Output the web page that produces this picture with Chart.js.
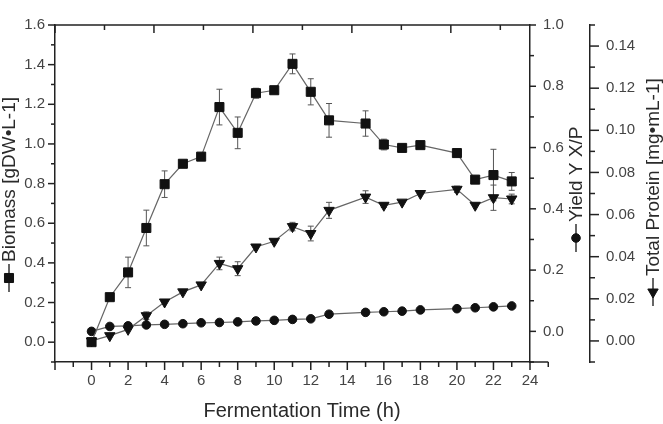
<!DOCTYPE html>
<html>
<head>
<meta charset="utf-8">
<script src="https://cdn.jsdelivr.net/npm/chart.js@4.4.1/dist/chart.umd.min.js"></script>
<style>
  html, body { margin: 0; padding: 0; background: #fff; }
  #wrap { width: 663px; height: 424px; }
</style>
</head>
<body>
<div id="wrap"><canvas id="chart" width="663" height="424"></canvas></div>
<script>
// fermentation time points (14 h and 19 h were not sampled)
const hours = [0, 1, 2, 3, 4, 5, 6, 7, 8, 9, 10, 11, 12, 13, 15, 16, 17, 18, 20, 21, 22, 23];

const biomass    = [0.00, 0.227, 0.352, 0.576, 0.797, 0.90, 0.936, 1.186, 1.056, 1.256, 1.271, 1.404, 1.263, 1.119, 1.103, 0.997, 0.98, 0.994, 0.954, 0.82, 0.843, 0.811];
const biomassErr = [0, 0, 0.077, 0.09, 0.067, 0, 0, 0.09, 0.08, 0.025, 0, 0.05, 0.066, 0.085, 0.064, 0.027, 0, 0, 0, 0, 0.13, 0.045];

const yieldXP = [0.0, 0.016, 0.018, 0.021, 0.023, 0.025, 0.028, 0.029, 0.031, 0.034, 0.036, 0.039, 0.041, 0.056, 0.062, 0.064, 0.066, 0.070, 0.074, 0.077, 0.080, 0.083];

const protein    = [0.000, 0.0025, 0.0055, 0.012, 0.0185, 0.0233, 0.0266, 0.0368, 0.0343, 0.0446, 0.0473, 0.0543, 0.051, 0.062, 0.0683, 0.0644, 0.0659, 0.070, 0.072, 0.0644, 0.068, 0.0674];
const proteinErr = [0, 0, 0, 0.0018, 0, 0, 0, 0.003, 0.0033, 0, 0, 0.002, 0.0035, 0.0038, 0.003, 0.001, 0, 0, 0.0015, 0, 0.006, 0.0023];

const xTitle = 'Fermentation Time (h)';
const biomassTitle = 'Biomass [gDW\u2022L-1]';
const yieldTitle = 'Yield Y X/P';
const proteinTitle = 'Total Protein [mg\u2022mL-1]';

const FONT = "'Liberation Sans', Arial, sans-serif";
const AXIS = '#222';
const LINE = '#666';
const MARK = '#111';

Chart.defaults.font.family = FONT;
Chart.defaults.font.size = 15;
Chart.defaults.color = '#444';

const pts = vals => hours.map((h, i) => ({ x: h, y: vals[i] }));

function drawTicks(ctx, scale, from, count, step, isMajor, edge, dir, majorLen, minorLen, horizontal) {
    for (let k = 0; k <= count; k++) {
        const v = from + k * step;
        const len = isMajor(k) ? majorLen : minorLen;
        const p = scale.getPixelForValue(v);
        ctx.beginPath();
        if (horizontal) {
            ctx.moveTo(p, edge);
            ctx.lineTo(p, edge + dir * len);
        } else {
            ctx.moveTo(edge, p);
            ctx.lineTo(edge + dir * len, p);
        }
        ctx.stroke();
    }
}

function errorBars(ctx, chart, dsIndex, vals, errs, scaleId) {
    const xs = chart.scales.x;
    const ys = chart.scales[scaleId];
    ctx.strokeStyle = '#555';
    ctx.lineWidth = 1;
    hours.forEach((h, i) => {
        if (!errs[i]) return;
        const px = xs.getPixelForValue(h);
        const top = ys.getPixelForValue(vals[i] + errs[i]);
        const bot = ys.getPixelForValue(vals[i] - errs[i]);
        ctx.beginPath();
        ctx.moveTo(px, top); ctx.lineTo(px, bot);
        ctx.moveTo(px - 3, top); ctx.lineTo(px + 3, top);
        ctx.moveTo(px - 3, bot); ctx.lineTo(px + 3, bot);
        ctx.stroke();
    });
}

function axisTitle(ctx, cx, symY, style, rotation, radius, textStart, text) {
    ctx.save();
    ctx.strokeStyle = '#333';
    ctx.lineWidth = 1.5;
    ctx.beginPath();
    ctx.moveTo(cx, symY - 14);
    ctx.lineTo(cx, symY + 14);
    ctx.stroke();
    ctx.fillStyle = MARK;
    ctx.strokeStyle = MARK;
    ctx.lineWidth = 1;
    Chart.helpers.drawPoint(ctx, { pointStyle: style, rotation: rotation, radius: radius, borderWidth: 1 }, cx, symY);
    ctx.translate(cx, textStart);
    ctx.rotate(-Math.PI / 2);
    ctx.fillStyle = '#2a2a2a';
    ctx.font = '19px ' + FONT;
    ctx.textAlign = 'left';
    ctx.textBaseline = 'middle';
    ctx.fillText(text, 0, 1);
    ctx.restore();
}

const decor = {
    id: 'decor',
    beforeDatasetsDraw(chart) {
        const ctx = chart.ctx;
        ctx.save();
        errorBars(ctx, chart, 0, biomass, biomassErr, 'y');
        errorBars(ctx, chart, 2, protein, proteinErr, 'y2');
        ctx.restore();
    },
    afterDraw(chart) {
        const ctx = chart.ctx;
        const a = chart.chartArea;
        const s = chart.scales;
        ctx.save();
        ctx.strokeStyle = AXIS;
        ctx.lineWidth = 1.5;

        // top frame line and bottom axis running on past the right frame
        ctx.beginPath();
        ctx.moveTo(a.left, a.top); ctx.lineTo(a.right, a.top);
        ctx.moveTo(a.right, a.bottom); ctx.lineTo(s.x.getPixelForValue(25), a.bottom);
        ctx.stroke();

        drawTicks(ctx, s.x, -2, 27, 1, k => k % 2 === 0, a.bottom, 1, 8, 5, true);
        drawTicks(ctx, s.x2, 0, 9, 2.5, k => k % 2 === 0, a.top, 1, 8, 5, true);
        drawTicks(ctx, s.y, -0.1, 17, 0.1, k => k % 2 === 1, a.left, -1, 7, 4, false);
        drawTicks(ctx, s.y1, -0.1, 11, 0.1, k => k % 2 === 1, a.right, 1, 6, 4, false);
        drawTicks(ctx, s.y2, -0.01, 16, 0.01, k => k % 2 === 1 && k < 16, s.y2.left, 1, 9, 5, false);

        ctx.fillStyle = '#2a2a2a';
        ctx.font = '20px ' + FONT;
        ctx.textAlign = 'center';
        ctx.textBaseline = 'middle';
        ctx.fillText(xTitle, 302, 411);
        ctx.restore();

        axisTitle(ctx, 9, 278, 'rect', 0, 6.4, 262, biomassTitle);
        axisTitle(ctx, 576, 238, 'circle', 0, 4.3, 222, yieldTitle);
        axisTitle(ctx, 653, 292, 'triangle', 180, 6, 276, proteinTitle);
    }
};

const frameAxis = {
    display: true,
    drawOnChartArea: false,
    drawTicks: false
};
const border = { display: true, color: AXIS, width: 1.5 };

new Chart(document.getElementById('chart'), {
    type: 'line',
    data: {
        datasets: [
            {
                label: 'Biomass',
                data: pts(biomass),
                yAxisID: 'y',
                borderColor: LINE,
                borderWidth: 1.2,
                pointStyle: 'rect',
                pointRadius: 6.4,
                pointBackgroundColor: MARK,
                pointBorderColor: MARK,
                pointBorderWidth: 1
            },
            {
                label: 'Yield Y X/P',
                data: pts(yieldXP),
                yAxisID: 'y1',
                borderColor: LINE,
                borderWidth: 1.2,
                pointStyle: 'circle',
                pointRadius: 4.3,
                pointBackgroundColor: MARK,
                pointBorderColor: MARK,
                pointBorderWidth: 1
            },
            {
                label: 'Total Protein',
                data: pts(protein),
                yAxisID: 'y2',
                borderColor: LINE,
                borderWidth: 1.2,
                pointStyle: 'triangle',
                pointRotation: 180,
                pointRadius: 6,
                pointBackgroundColor: MARK,
                pointBorderColor: MARK,
                pointBorderWidth: 1
            }
        ]
    },
    options: {
        responsive: false,
        animation: false,
        devicePixelRatio: 1,
        clip: false,
        layout: { padding: { top: 7, left: 0, right: 0, bottom: 0 } },
        plugins: { legend: { display: false }, tooltip: { enabled: false } },
        scales: {
            x: {
                type: 'linear',
                min: -2,
                max: 24,
                grid: frameAxis,
                border: border,
                afterFit: sc => { sc.height = 62; },
                ticks: {
                    stepSize: 1,
                    autoSkip: false,
                    maxRotation: 0,
                    padding: 10,
                    callback: v => (v >= 0 && v % 2 === 0 ? String(v) : '')
                }
            },
            x2: {
                type: 'linear',
                position: 'top',
                min: 0,
                max: 24,
                display: false
            },
            y: {
                type: 'linear',
                position: 'left',
                min: -0.1,
                max: 1.6,
                grid: frameAxis,
                border: border,
                afterFit: sc => { sc.width = 55; },
                ticks: {
                    stepSize: 0.1,
                    autoSkip: false,
                    padding: 10,
                    callback: v => {
                        const k = Math.round(v * 10);
                        return k >= 0 && k % 2 === 0 ? (k / 10).toFixed(1) : '';
                    }
                }
            },
            y1: {
                type: 'linear',
                position: 'right',
                min: -0.1,
                max: 1.0,
                grid: frameAxis,
                border: border,
                afterFit: sc => { sc.width = 60; },
                ticks: {
                    stepSize: 0.1,
                    autoSkip: false,
                    padding: 13,
                    callback: v => {
                        const k = Math.round(v * 10);
                        return k >= 0 && k % 2 === 0 ? (k / 10).toFixed(1) : '';
                    }
                }
            },
            y2: {
                type: 'linear',
                position: 'right',
                min: -0.01,
                max: 0.15,
                grid: frameAxis,
                border: border,
                afterFit: sc => { sc.width = 73; },
                ticks: {
                    stepSize: 0.01,
                    autoSkip: false,
                    padding: 16,
                    callback: v => {
                        const k = Math.round(v * 100);
                        return k >= 0 && k <= 14 && k % 2 === 0 ? (k / 100).toFixed(2) : '';
                    }
                }
            }
        }
    },
    plugins: [decor]
});
</script>
</body>
</html>
